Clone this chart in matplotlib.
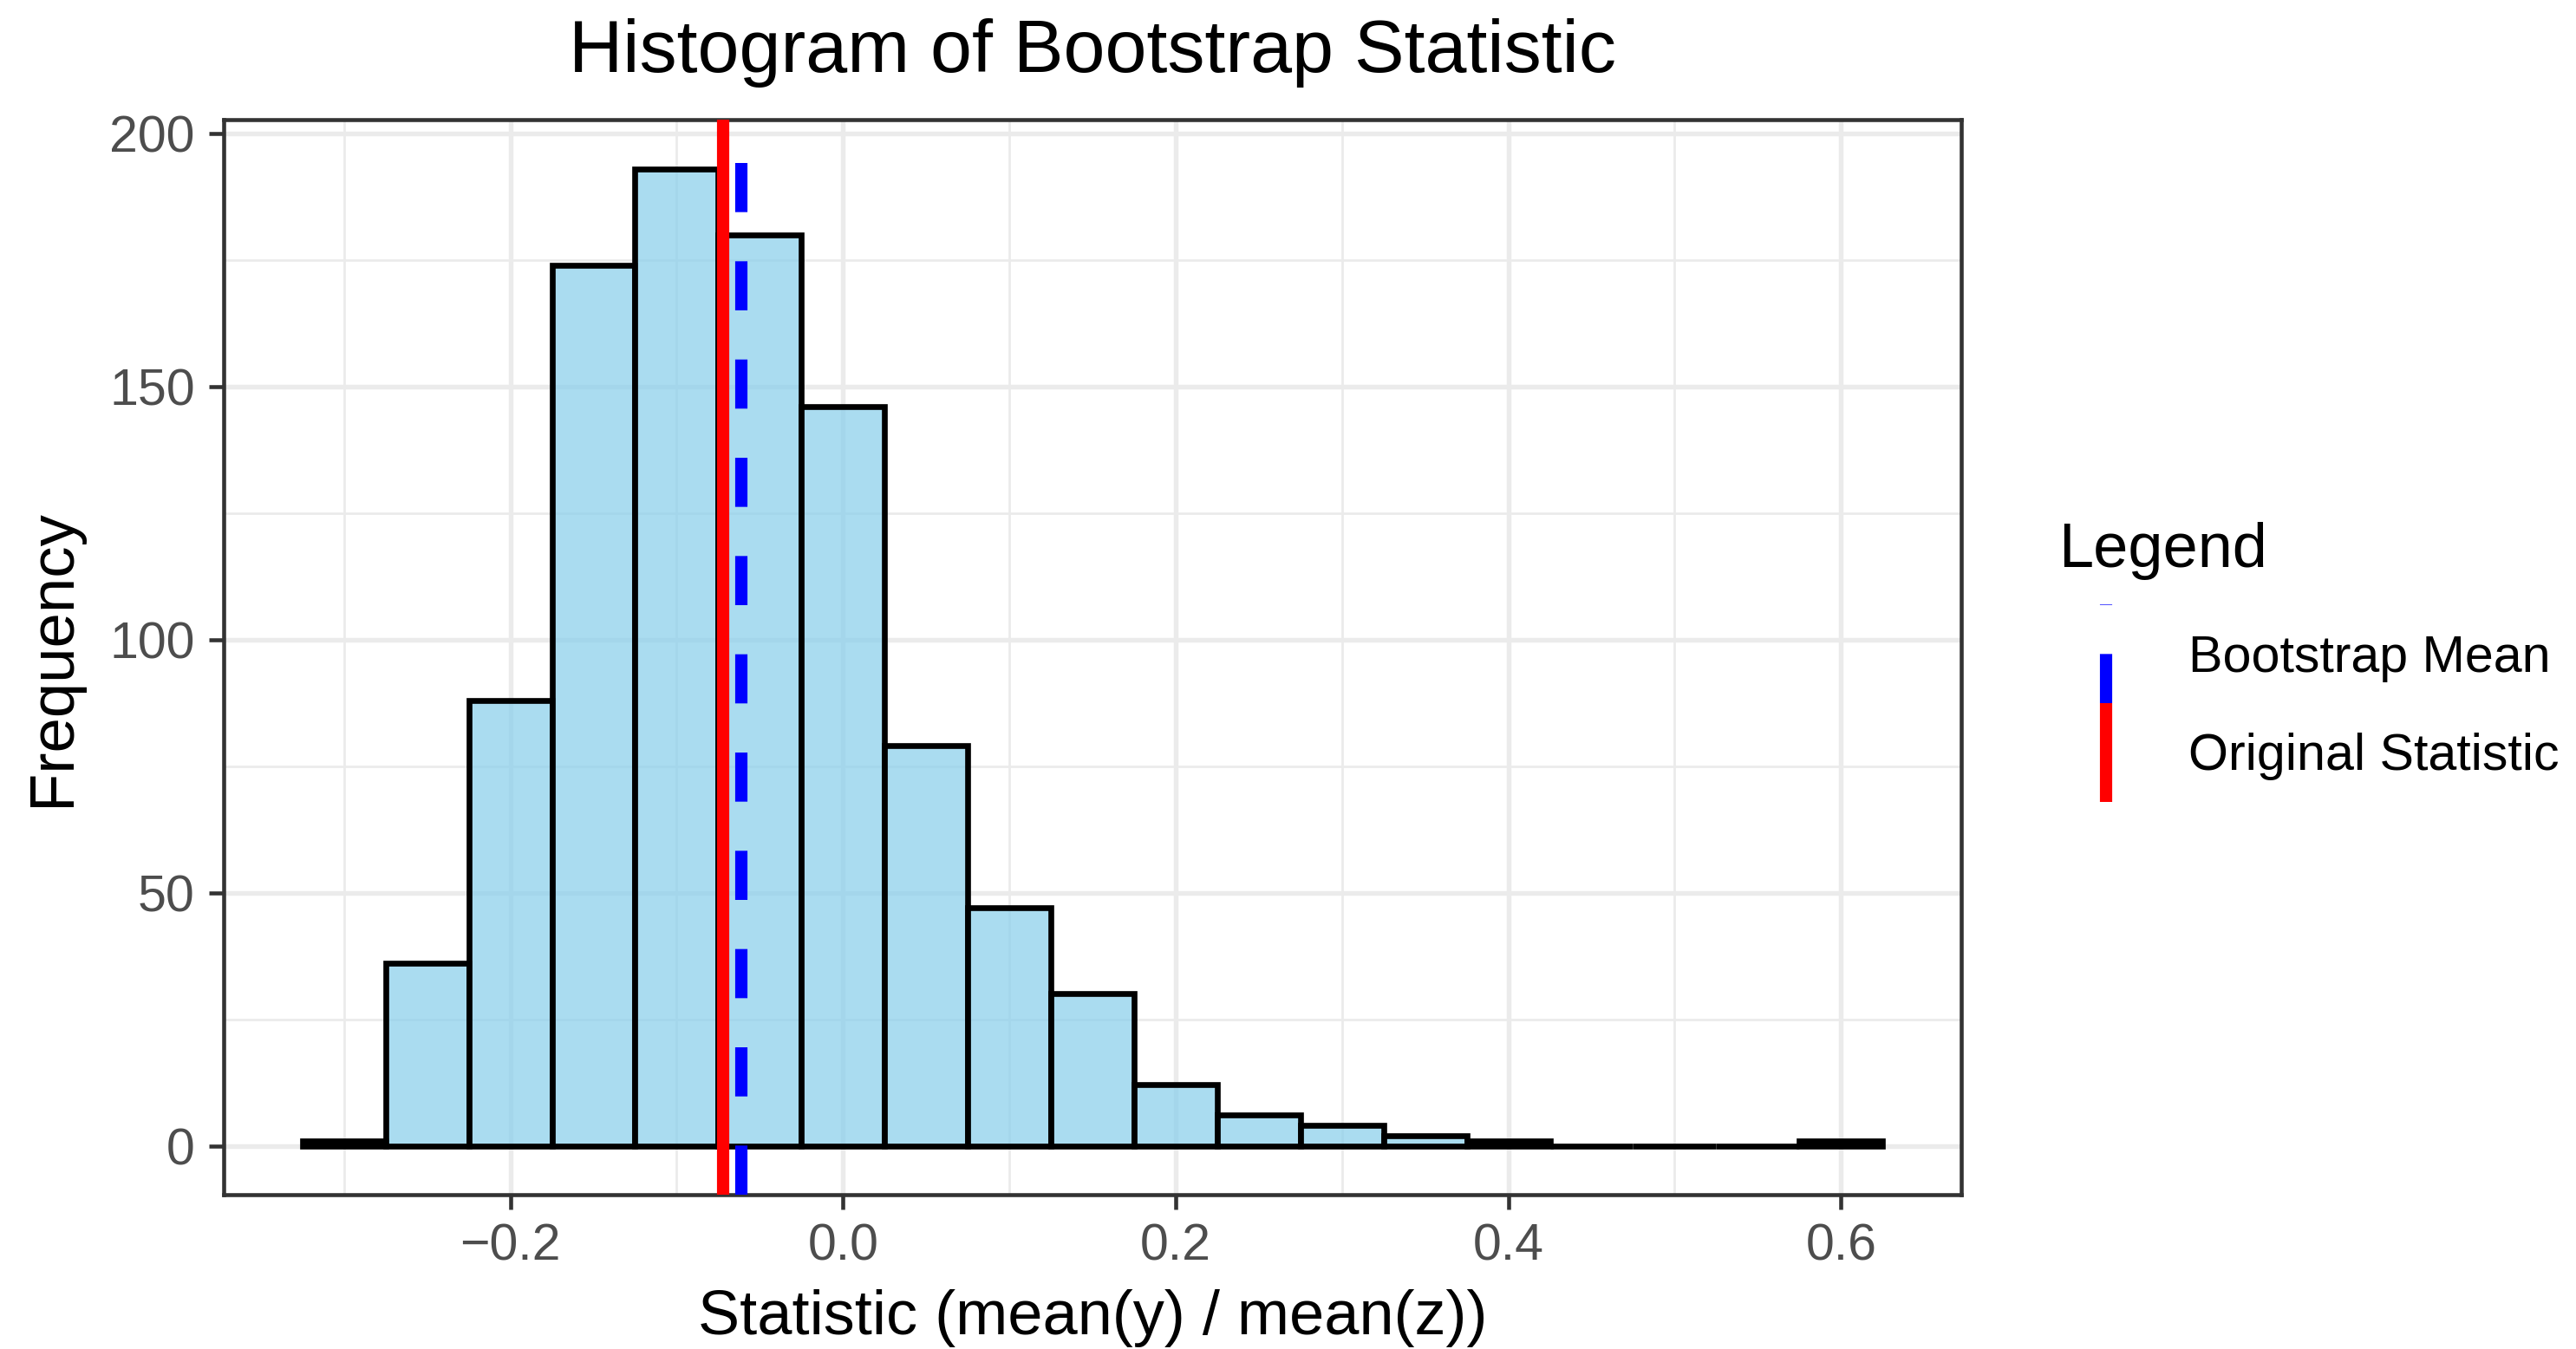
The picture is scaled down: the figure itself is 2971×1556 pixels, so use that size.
import matplotlib.pyplot as plt
from matplotlib.lines import Line2D
import numpy as np

plt.rcParams['font.family'] = ['Liberation Sans', 'DejaVu Sans']

# bootstrap histogram: bin edges (width 0.05) and counts per bin
bin_edges = [-0.325, -0.275, -0.225, -0.175, -0.125, -0.075, -0.025, 0.025,
             0.075, 0.125, 0.175, 0.225, 0.275, 0.325, 0.375, 0.425, 0.475,
             0.525, 0.575, 0.625]
counts = [1, 36, 88, 174, 193, 180, 146, 79, 47, 30, 12, 6, 4, 2, 1, 0, 0, 0, 1]

original_stat = -0.072
boot_mean = -0.061

x_ticks = [-0.2, 0.0, 0.2, 0.4, 0.6]
x_tick_labels = ['\u22120.2', '0.0', '0.2', '0.4', '0.6']
x_minor = [-0.3, -0.1, 0.1, 0.3, 0.5]
y_ticks = [0, 50, 100, 150, 200]
y_minor = [25, 75, 125, 175]

W, H = 1568, 821  # layout grid used for placing things

fig = plt.figure(figsize=(2971 / 300, 1556 / 300), dpi=300)
ax = fig.add_axes([136 / W, 1 - 727 / H, (1194 - 136) / W, (727 - 73) / H])

edges = np.array(bin_edges)
ax.bar(edges[:-1], counts, width=np.diff(edges), align='edge',
       facecolor=(135 / 255, 206 / 255, 235 / 255, 0.7),
       edgecolor='black', linewidth=1.6, zorder=2)

ax.axvline(original_stat, color='red', lw=3.4, solid_capstyle='butt', zorder=3)
ax.axvline(boot_mean, color='blue', lw=3.4, ls=(0, (4, 4)), zorder=3)

# ggplot-style expanded limits
span = edges[-1] - edges[0]
ax.set_xlim(edges[0] - 0.05 * span, edges[-1] + 0.05 * span)
ymax = max(counts)
ax.set_ylim(-0.05 * ymax, 1.05 * ymax)

ax.set_xticks(x_ticks)
ax.set_xticklabels(x_tick_labels)
ax.set_xticks(x_minor, minor=True)
ax.set_yticks(y_ticks)
ax.set_yticks(y_minor, minor=True)

ax.set_axisbelow(True)
ax.grid(which='major', color='#EBEBEB', lw=1.3)
ax.grid(which='minor', color='#EBEBEB', lw=0.65)
for s in ax.spines.values():
    s.set_color('#333333')
    s.set_linewidth(1.1)
ax.tick_params(which='major', length=4.1, width=1.1, color='#333333',
               labelcolor='#4D4D4D', labelsize=14.2, pad=3.8)
ax.tick_params(which='minor', length=0)

ax.set_xlabel('Statistic (mean(y) / mean(z))', fontsize=17.3)
ax.xaxis.label.set_va('baseline')
ax.xaxis.set_label_coords(0.5, (727 - 812) / 654)
ax.set_ylabel('Frequency', fontsize=17.4)
ax.yaxis.set_label_coords((50 - 136) / 1058, 0.5)

fig.text((136 + 1194) / 2 / W, 1 - 44 / H, 'Histogram of Bootstrap Statistic',
         ha='center', va='baseline', fontsize=20.7)

# legend drawn by hand: stacked vertical keys
fig.text(1253 / W, 1 - 345 / H, 'Legend', fontsize=17.3, va='baseline')
kx = 1282 / W
fig.add_artist(Line2D([kx, kx], [1 - 428 / H, 1 - 368 / H], color='blue', lw=3.4,
                      ls=(0, (4, 4)), transform=fig.transFigure))
fig.add_artist(Line2D([kx, kx], [1 - 488 / H, 1 - 428 / H], color='red', lw=3.4,
                      solid_capstyle='butt', transform=fig.transFigure))
fig.text(1332 / W, 1 - 400.5 / H, 'Bootstrap Mean', fontsize=14.2, va='center')
fig.text(1332 / W, 1 - 460.5 / H, 'Original Statistic', fontsize=14.2, va='center')

fig.savefig('out.png', dpi=300)
